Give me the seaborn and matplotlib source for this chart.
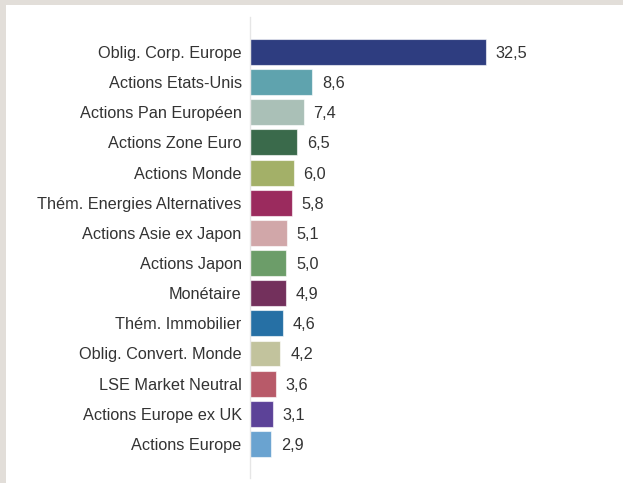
import matplotlib
matplotlib.use("Agg")
import matplotlib.pyplot as plt
import pandas as pd
import seaborn as sns

# Données
categories = [
    "Oblig. Corp. Europe", "Actions Etats-Unis", "Actions Pan Européen",
    "Actions Zone Euro", "Actions Monde", "Thém. Energies Alternatives",
    "Actions Asie ex Japon", "Actions Japon", "Monétaire", "Thém. Immobilier",
    "Oblig. Convert. Monde", "LSE Market Neutral", "Actions Europe ex UK",
    "Actions Europe",
]
values = [32.5, 8.6, 7.4, 6.5, 6.0, 5.8, 5.1, 5.0, 4.9, 4.6, 4.2, 3.6, 3.1, 2.9]
colors = [
    "#2E3D80", "#5FA3AE", "#AAC0B7", "#3A6A4B", "#A3B068", "#9B2B5E",
    "#D1A7A9", "#6C9D69", "#73305C", "#2670A5", "#C2C39D", "#B85A69",
    "#5C4298", "#6AA3D0",
]

df = pd.DataFrame({"categorie": categories, "valeur": values})
palette = dict(zip(categories, colors))

sns.set_style("white")
plt.rcParams["font.family"] = ["Liberation Sans", "DejaVu Sans"]

fig = plt.figure(figsize=(6.23, 4.83), dpi=100)
fig.patch.set_facecolor("white")

# bordure grise en haut et à gauche
fig.patches.append(plt.Rectangle((0, 1 - 5 / 483), 1, 5 / 483, transform=fig.transFigure,
                                 facecolor="#E2DED9", edgecolor="none", zorder=0))
fig.patches.append(plt.Rectangle((0, 0), 6 / 623, 1, transform=fig.transFigure,
                                 facecolor="#E2DED9", edgecolor="none", zorder=0))

ax = fig.add_axes([250 / 623, 5 / 483, 363 / 623, 461 / 483])

sns.barplot(data=df, x="valeur", y="categorie", hue="categorie", palette=palette,
            orient="h", width=0.86, legend=False, ax=ax, saturation=1,
            edgecolor=(1, 1, 1, 0.6), linewidth=0.8)

for cont in ax.containers:
    labels = [f"{v:.1f}".replace(".", ",") for v in cont.datavalues]
    texts = ax.bar_label(cont, labels=labels, padding=7, fontsize=11.7, color="#333333")
    for t in texts:
        t.set_va("center_baseline")

ax.set_xlim(0, 50)
ax.set_ylim(len(categories) - 1 + 1.13, -1.16)
ax.set_xlabel("")
ax.set_ylabel("")
ax.set_xticks([])
ax.tick_params(axis="y", length=0, pad=6, labelsize=11.7, labelcolor="#333333")

for side in ["top", "right", "bottom"]:
    ax.spines[side].set_visible(False)
ax.spines["left"].set_color("#E6E6E6")
ax.spines["left"].set_linewidth(1)
ax.set_facecolor("none")

fig.savefig("out.png", dpi=100)
